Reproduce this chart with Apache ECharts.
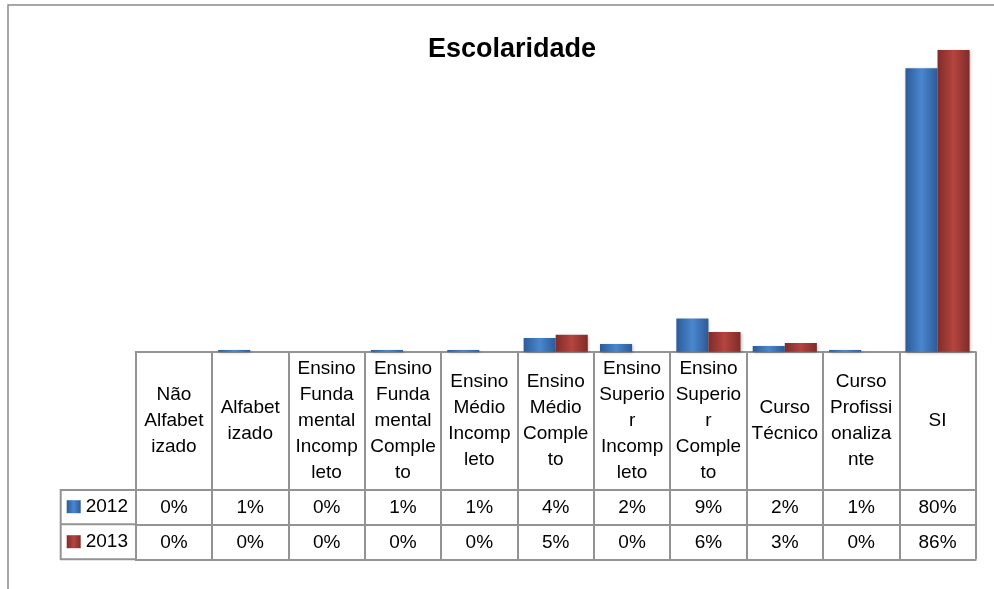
<!DOCTYPE html>
<html>
<head>
<meta charset="utf-8">
<script src="https://cdn.jsdelivr.net/npm/echarts@6/dist/echarts.min.js"></script>
<style>
  html,body{margin:0;padding:0;background:#fff;}
  #main{width:994px;height:589px;}
</style>
</head>
<body>
<div id="main"></div>
<script>
// categorias (quebradas como no original)
var categorias = [
  'Não\nAlfabet\nizado', 'Alfabet\nizado', 'Ensino\nFunda\nmental\nIncomp\nleto',
  'Ensino\nFunda\nmental\nComple\nto', 'Ensino\nMédio\nIncomp\nleto', 'Ensino\nMédio\nComple\nto',
  'Ensino\nSuperio\nr\nIncomp\nleto', 'Ensino\nSuperio\nr\nComple\nto', 'Curso\nTécnico',
  'Curso\nProfissi\nonaliza\nnte', 'SI'
];
// altura das barras (%)
var valores2012 = [0, 0.5, 0, 0.5, 0.5, 3.9, 2.2, 9.4, 1.6, 0.5, 80.4];
var valores2013 = [0, 0, 0, 0, 0, 4.8, 0, 5.6, 2.5, 0, 85.6];
// textos da tabela de dados
var tabela2012 = ['0%', '1%', '0%', '1%', '1%', '4%', '2%', '9%', '2%', '1%', '80%'];
var tabela2013 = ['0%', '0%', '0%', '0%', '0%', '5%', '0%', '6%', '3%', '0%', '86%'];

var corLinha = '#939393';
var fonte = 'Liberation Sans';

function grad(c1, c2){
  return new echarts.graphic.LinearGradient(0, 0, 1, 0, [
    {offset: 0, color: c1}, {offset: 0.5, color: c2}, {offset: 1, color: c1}
  ]);
}

var chart = echarts.init(document.getElementById('main'));

var eixoTabela = function(dados, offset, margem, mostraLabel){
  return {
    type: 'category', data: dados, gridIndex: 0, position: 'bottom', offset: offset,
    axisLine: {show: true, lineStyle: {color: corLinha, width: 2}},
    axisTick: {show: false},
    axisLabel: {show: mostraLabel, interval: 0, margin: margem, verticalAlign: 'middle',
      color: '#000', fontFamily: fonte, fontSize: 19}
  };
};

chart.setOption({
  backgroundColor: '#fff',
  animation: false,
  title: {
    text: 'Escolaridade', left: 423, top: 31,
    textStyle: {fontFamily: fonte, fontSize: 27, fontWeight: 'bold', color: '#000'}
  },
  legend: {
    data: ['2012', '2013'], orient: 'vertical', left: 61.7, top: 491.7,
    icon: 'rect', itemWidth: 14, itemHeight: 13, itemGap: 15,
    textStyle: {fontFamily: fonte, fontSize: 19, color: '#000', lineHeight: 20}
  },
  grid: {left: 135.7, right: 18.3, top: 34.5, bottom: 237.3, outerBoundsMode: 'none'},
  xAxis: [
    {
      type: 'category', data: categorias, position: 'bottom',
      axisLine: {show: true, lineStyle: {color: corLinha, width: 2}},
      axisTick: {show: true, length: 207.6, lineStyle: {color: corLinha, width: 2}},
      axisLabel: {interval: 0, margin: 69.3, verticalAlign: 'middle', lineHeight: 26,
        color: '#000', fontFamily: fonte, fontSize: 19}
    },
    eixoTabela(tabela2012, 138.3, 18, true),
    eixoTabela(tabela2013, 172.6, 18.6, true),
    eixoTabela(categorias, 207.6, 0, false)
  ],
  yAxis: {type: 'value', min: 0, max: 90, show: false, splitLine: {show: false}},
  series: [
    {
      name: '2012', type: 'bar', data: valores2012, barGap: '0%', barCategoryGap: '16%',
      itemStyle: {color: grad('#2c5b98', '#4a86cf'),
        shadowColor: 'rgba(0,0,0,0.25)', shadowBlur: 3, shadowOffsetX: 1, shadowOffsetY: 1}
    },
    {
      name: '2013', type: 'bar', data: valores2013, barGap: '0%', barCategoryGap: '16%',
      itemStyle: {color: grad('#7f2c2a', '#b5443f'),
        shadowColor: 'rgba(0,0,0,0.25)', shadowBlur: 3, shadowOffsetX: 1, shadowOffsetY: 1}
    }
  ],
  graphic: [
    // moldura externa
    {type: 'rect', shape: {x: 8, y: 5, width: 990, height: 600}, silent: true,
      style: {fill: null, stroke: '#8a8a8a', lineWidth: 1.5}},
    // coluna da legenda na tabela
    {type: 'polyline', silent: true,
      shape: {points: [[135.7, 490], [60.7, 490], [60.7, 559.3], [135.7, 559.3]]},
      style: {fill: null, stroke: corLinha, lineWidth: 2}},
    {type: 'line', silent: true, shape: {x1: 60.7, y1: 524.3, x2: 135.7, y2: 524.3},
      style: {stroke: corLinha, lineWidth: 2}}
  ]
});
</script>
</body>
</html>
